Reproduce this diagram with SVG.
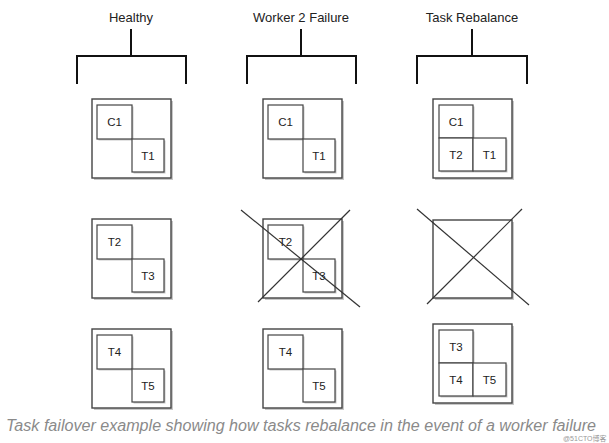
<svg xmlns="http://www.w3.org/2000/svg" width="609" height="443" viewBox="0 0 609 443">
<style>
.title{font-family:"Liberation Sans",Arial,sans-serif;font-size:13px;fill:#222;text-anchor:middle}
.lbl{font-family:"Liberation Sans",Arial,sans-serif;font-size:11.5px;fill:#222;text-anchor:middle}
.outer{fill:#fff;stroke:#444;stroke-width:1.4}
.inner{fill:#fff;stroke:#444;stroke-width:1.2}
.shadow{fill:#c8c8c8;stroke:none}
.bracket{fill:none;stroke:#111;stroke-width:2}
.cross{stroke:#333;stroke-width:1.2}
.caption{font-family:"Liberation Sans",Arial,sans-serif;font-style:italic;font-size:16px;fill:#8a8a8a}
.wm{font-family:"Liberation Sans","Noto Sans CJK SC",sans-serif;font-size:7px;fill:#999}
</style>
<rect width="609" height="443" fill="#fff"/>
<g id="headers">
<text class="title" x="131" y="22">Healthy</text>
<text class="title" x="301" y="22">Worker 2 Failure</text>
<text class="title" x="472" y="22">Task Rebalance</text>
</g>
<g id="connectors">
<path class="bracket" d="M131 29V56M77 84V56H186V84"/>
<path class="bracket" d="M301 29V56M247 84V56H356V84"/>
<path class="bracket" d="M472 29V56M417 84V56H527V84"/>
</g>
<g id="healthy-w1">
<rect class="shadow" x="94" y="101" width="79" height="79"/>
<rect class="outer" x="92" y="99" width="79" height="79"/>
<rect class="shadow" x="98.5" y="106.5" width="35" height="34"/>
<rect class="inner" x="97" y="105" width="35" height="34"/>
<rect class="shadow" x="133.5" y="140.5" width="32" height="33"/>
<rect class="inner" x="132" y="139" width="32" height="33"/>
<text class="lbl" x="114.5" y="126">C1</text>
<text class="lbl" x="148" y="160">T1</text>
</g>
<g id="healthy-w2">
<rect class="shadow" x="94" y="221" width="79" height="79"/>
<rect class="outer" x="92" y="219" width="79" height="79"/>
<rect class="shadow" x="98.5" y="226.5" width="35" height="34"/>
<rect class="inner" x="97" y="225" width="35" height="34"/>
<rect class="shadow" x="133.5" y="260.5" width="32" height="33"/>
<rect class="inner" x="132" y="259" width="32" height="33"/>
<text class="lbl" x="114.5" y="246">T2</text>
<text class="lbl" x="148" y="280">T3</text>
</g>
<g id="healthy-w3">
<rect class="shadow" x="94" y="331" width="79" height="79"/>
<rect class="outer" x="92" y="329" width="79" height="79"/>
<rect class="shadow" x="98.5" y="336.5" width="35" height="34"/>
<rect class="inner" x="97" y="335" width="35" height="34"/>
<rect class="shadow" x="133.5" y="370.5" width="32" height="33"/>
<rect class="inner" x="132" y="369" width="32" height="33"/>
<text class="lbl" x="114.5" y="356">T4</text>
<text class="lbl" x="148" y="390">T5</text>
</g>
<g id="failure-w1">
<rect class="shadow" x="265" y="101" width="79" height="79"/>
<rect class="outer" x="263" y="99" width="79" height="79"/>
<rect class="shadow" x="269.5" y="106.5" width="35" height="34"/>
<rect class="inner" x="268" y="105" width="35" height="34"/>
<rect class="shadow" x="304.5" y="140.5" width="32" height="33"/>
<rect class="inner" x="303" y="139" width="32" height="33"/>
<text class="lbl" x="285.5" y="126">C1</text>
<text class="lbl" x="319" y="160">T1</text>
</g>
<g id="failure-w2">
<rect class="shadow" x="265" y="221" width="79" height="79"/>
<rect class="outer" x="263" y="219" width="79" height="79"/>
<rect class="shadow" x="269.5" y="226.5" width="35" height="34"/>
<rect class="inner" x="268" y="225" width="35" height="34"/>
<rect class="shadow" x="304.5" y="260.5" width="32" height="33"/>
<rect class="inner" x="303" y="259" width="32" height="33"/>
<text class="lbl" x="285.5" y="246">T2</text>
<text class="lbl" x="319" y="280">T3</text>
<line class="cross" x1="241" y1="210" x2="360" y2="307"/>
<line class="cross" x1="258" y1="302" x2="350" y2="210"/>
</g>
<g id="failure-w3">
<rect class="shadow" x="265" y="331" width="79" height="79"/>
<rect class="outer" x="263" y="329" width="79" height="79"/>
<rect class="shadow" x="269.5" y="336.5" width="35" height="34"/>
<rect class="inner" x="268" y="335" width="35" height="34"/>
<rect class="shadow" x="304.5" y="370.5" width="32" height="33"/>
<rect class="inner" x="303" y="369" width="32" height="33"/>
<text class="lbl" x="285.5" y="356">T4</text>
<text class="lbl" x="319" y="390">T5</text>
</g>
<g id="rebalance-w1">
<rect class="shadow" x="435" y="101" width="79" height="79"/>
<rect class="outer" x="433" y="99" width="79" height="79"/>
<rect class="shadow" x="440.5" y="106.5" width="34" height="33"/>
<rect class="inner" x="439" y="105" width="34" height="33"/>
<rect class="shadow" x="440.5" y="139.5" width="34" height="33"/>
<rect class="inner" x="439" y="138" width="34" height="33"/>
<rect class="shadow" x="474.5" y="139.5" width="33" height="33"/>
<rect class="inner" x="473" y="138" width="33" height="33"/>
<text class="lbl" x="456" y="126">C1</text>
<text class="lbl" x="456" y="159">T2</text>
<text class="lbl" x="489.5" y="159">T1</text>
</g>
<g id="rebalance-w2">
<rect class="shadow" x="435" y="222" width="79" height="78"/>
<rect class="outer" x="433" y="220" width="79" height="78"/>
<line class="cross" x1="417" y1="209" x2="529" y2="305"/>
<line class="cross" x1="427" y1="304" x2="522" y2="209"/>
</g>
<g id="rebalance-w3">
<rect class="shadow" x="435" y="326" width="79" height="79"/>
<rect class="outer" x="433" y="324" width="79" height="79"/>
<rect class="shadow" x="440.5" y="331.5" width="34" height="33"/>
<rect class="inner" x="439" y="330" width="34" height="33"/>
<rect class="shadow" x="440.5" y="364.5" width="34" height="33"/>
<rect class="inner" x="439" y="363" width="34" height="33"/>
<rect class="shadow" x="474.5" y="364.5" width="33" height="33"/>
<rect class="inner" x="473" y="363" width="33" height="33"/>
<text class="lbl" x="456" y="351">T3</text>
<text class="lbl" x="456" y="384">T4</text>
<text class="lbl" x="489.5" y="384">T5</text>
</g>
<text class="caption" x="6" y="431" textLength="590" lengthAdjust="spacingAndGlyphs">Task failover example showing how tasks rebalance in the event of a worker failure</text>
<text class="wm" x="563" y="441">@51CTO博客</text>
</svg>
